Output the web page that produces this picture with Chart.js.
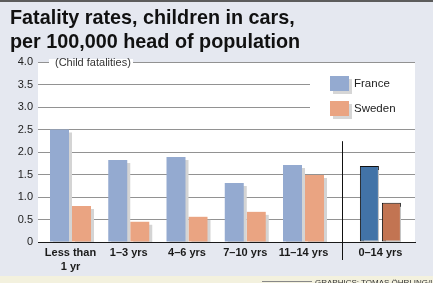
<!DOCTYPE html>
<html>
<head>
<meta charset="utf-8">
<script src="https://cdn.jsdelivr.net/npm/chart.js@4.4.0/dist/chart.umd.min.js"></script>
<style>
  body { margin: 0; background: #e5e8f0; font-family: "Liberation Sans", Arial, sans-serif; }
  #wrap { position: relative; width: 433px; height: 283px; overflow: hidden; }
  #topline { position: absolute; left: 0; top: 0; width: 433px; height: 2px; background: #5c5c5c; }
  #title { position: absolute; left: 10px; top: 5px; font-weight: bold; font-size: 19.8px; line-height: 24px; color: #111; z-index: 2; }
  #foot { position: absolute; left: 0; top: 276px; width: 433px; height: 7px; background: #f3f1de; }
  #credit { position: absolute; left: 315px; top: 278px; font-size: 8px; color: #333; white-space: nowrap; z-index: 2; }
  #creditline { position: absolute; left: 262px; top: 281px; width: 50px; height: 1px; background: #888; z-index: 2; }
  canvas { position: absolute; left: 0; top: 0; z-index: 1; }
</style>
</head>
<body>
<div id="wrap">
  <div id="topline"></div>
  <div id="title">Fatality rates, children in cars,<br>per 100,000 head of population</div>
  <div id="foot"></div>
  <div id="creditline"></div>
  <div id="credit">GRAPHICS: TOMAS ÖHRLING/UNEF</div>
  <canvas id="myChart" width="433" height="283"></canvas>
</div>
<script>
// Dados
const categories = [['Less than', '1 yr'], '1–3 yrs', '4–6 yrs', '7–10 yrs', '11–14 yrs', '0–14 yrs'];
const france = [2.5, 1.82, 1.89, 1.31, 1.71, 1.69];
const sweden = [0.8, 0.45, 0.56, 0.67, 1.49, 0.87];
const yTicks = [0, 0.5, 1.0, 1.5, 2.0, 2.5, 3.0, 3.5, 4.0];

// posição dos grupos no eixo x (o total fica um pouco afastado)
const totalGap = 0.32;
const positions = categories.map((c, i) => i === categories.length - 1 ? i + totalGap : i);

const franceColors = ['#94aad0', '#94aad0', '#94aad0', '#94aad0', '#94aad0', '#4273a7'];
const swedenColors = ['#eaa482', '#eaa482', '#eaa482', '#eaa482', '#eaa482', '#c27452'];
const borders = [0, 0, 0, 0, 0, 1];

// fundo branco da área do gráfico
const plotBg = {
  id: 'plotBg',
  beforeDraw(chart) {
    const { ctx, chartArea: a } = chart;
    ctx.save();
    ctx.fillStyle = '#ffffff';
    ctx.fillRect(a.left, a.top, a.right - a.left, a.bottom - a.top);
    ctx.restore();
  }
};

// legenda, rótulo do eixo e sombras
const extras = {
  id: 'extras',
  beforeDatasetsDraw(chart) {
    const { ctx, chartArea: a, scales: { y } } = chart;
    ctx.save();
    // rótulo "(Child fatalities)"
    const yTop = y.getPixelForValue(4);
    ctx.fillStyle = '#ffffff';
    ctx.fillRect(a.left + 11, yTop - 3, 84, 6);
    ctx.font = '11px "Liberation Sans", Arial, sans-serif';
    ctx.fillStyle = '#333';
    ctx.textBaseline = 'middle';
    ctx.fillText('(Child fatalities)', a.left + 17, yTop + 1);
    // caixa da legenda
    const y25 = y.getPixelForValue(2.5);
    ctx.fillStyle = '#ffffff';
    ctx.fillRect(a.right - 105, yTop + 2, 105, y25 - yTop - 4);
    const items = [
      { label: chart.data.datasets[0].label, color: franceColors[0] },
      { label: chart.data.datasets[1].label, color: swedenColors[0] }
    ];
    ctx.font = '11.5px "Liberation Sans", Arial, sans-serif';
    items.forEach((it, i) => {
      const bx = a.right - 85, by = yTop + 14 + i * 25;
      ctx.fillStyle = '#d6d6d6';
      ctx.fillRect(bx + 3, by + 3, 19, 15);
      ctx.fillStyle = it.color;
      ctx.fillRect(bx, by, 19, 15);
      ctx.fillStyle = '#222';
      ctx.fillText(it.label, bx + 24, by + 8);
    });
    ctx.restore();
    // sombra das barras
    ctx.save();
    ctx.beginPath();
    ctx.rect(a.left, a.top, a.right - a.left, a.bottom - a.top);
    ctx.clip();
    ctx.shadowColor = '#d4d4d4';
    ctx.shadowOffsetX = 3;
    ctx.shadowOffsetY = 3;
    ctx.shadowBlur = 0;
  },
  afterDatasetsDraw(chart) {
    chart.ctx.restore();
  },
  afterDraw(chart) {
    const { ctx, chartArea: a, scales: { x, y } } = chart;
    const n = positions.length;
    const sx = Math.round(x.getPixelForValue((positions[n - 2] + positions[n - 1]) / 2)) + 0.5;
    ctx.save();
    ctx.strokeStyle = '#111';
    ctx.lineWidth = 1;
    ctx.beginPath();
    ctx.moveTo(sx, y.getPixelForValue(2.24));
    ctx.lineTo(sx, a.bottom + 18);
    ctx.stroke();
    ctx.restore();
  }
};

const ctx = document.getElementById('myChart').getContext('2d');
const myChart = new Chart(ctx, {
  type: 'bar',
  data: {
    datasets: [{
      label: 'France',
      data: france.map((v, i) => ({ x: positions[i], y: v })),
      backgroundColor: franceColors,
      borderColor: '#111',
      borderWidth: borders,
      borderSkipped: false
    }, {
      label: 'Sweden',
      data: sweden.map((v, i) => ({ x: positions[i], y: v })),
      backgroundColor: swedenColors,
      borderColor: '#111',
      borderWidth: borders,
      borderSkipped: false
    }]
  },
  options: {
    responsive: false,
    animation: false,
    categoryPercentage: 0.7554,
    barPercentage: 0.8636,
    layout: { padding: { top: 62, right: 18, left: 0, bottom: 0 } },
    plugins: { legend: { display: false }, tooltip: { enabled: false } },
    scales: {
      x: {
        type: 'linear',
        offset: false,
        min: -0.558,
        max: 5.914,
        z: 1,
        grid: { display: false, offset: false, drawTicks: false },
        border: { display: true, color: '#1a1a1a', width: 1 },
        afterBuildTicks: (s) => { s.ticks = positions.map(v => ({ value: v })); },
        afterFit: (s) => { s.height = 41; },
        ticks: {
          autoSkip: false,
          maxRotation: 0,
          padding: 4,
          color: '#1a1a1a',
          font: { family: '"Liberation Sans", Arial, sans-serif', size: 11, weight: 'bold', lineHeight: 1.27 },
          callback: (v, i) => categories[i]
        }
      },
      y: {
        min: 0,
        max: 4,
        afterBuildTicks: (s) => { s.ticks = yTicks.map(v => ({ value: v })); },
        afterFit: (s) => { s.width = 38; },
        border: { display: false },
        grid: {
          drawTicks: false,
          color: (c) => c.tick && c.tick.value === 0 ? '#1a1a1a' : '#929292',
          lineWidth: 1
        },
        ticks: {
          padding: 5,
          color: '#222',
          font: { family: '"Liberation Sans", Arial, sans-serif', size: 11 },
          callback: (v) => v === 0 ? '0' : v.toFixed(1)
        }
      }
    }
  },
  plugins: [plotBg, extras]
});
</script>
</body>
</html>
